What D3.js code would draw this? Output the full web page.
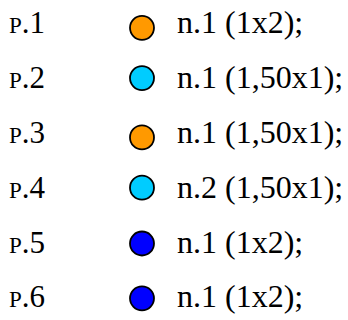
<!DOCTYPE html>
<html>
<head>
<meta charset="utf-8">
<script src="https://cdn.jsdelivr.net/npm/d3@7"></script>
<style>
  html, body { margin: 0; padding: 0; background: #fff; }
  svg { display: block; }
</style>
</head>
<body>
<div id="chart"></div>
<script>
// Data
const rowLabels = ["1", "2", "3", "4", "5", "6"];
const itemTexts = ["n.1 (1x2);", "n.1 (1,50x1);", "n.1 (1,50x1);", "n.2 (1,50x1);", "n.1 (1x2);", "n.1 (1x2);"];
const markerKinds = ["orange", "cyan", "orange", "cyan", "blue", "blue"];

const W = 348, H = 320;
const colorScale = d3.scaleOrdinal()
  .domain(["orange", "cyan", "blue"])
  .range(["#ff9900", "#00ccff", "#0000ff"]);
// marker vertical offset relative to text baseline (per marker kind)
const markerOffset = d3.scaleOrdinal()
  .domain(["orange", "cyan", "blue"])
  .range([-5.5, -10, -9]);

const svg = d3.select("#chart").append("svg")
  .attr("width", W).attr("height", H);

const y = d3.scalePoint().domain(rowLabels).range([33.3, 307.3]);

const rows = svg.selectAll("g.row")
  .data(rowLabels.map((l, i) => ({ label: l, text: itemTexts[i], kind: markerKinds[i] })))
  .join("g")
  .attr("class", "row")
  .attr("transform", d => `translate(0,${y(d.label)})`);

const lbl = rows.append("text")
  .attr("x", 9)
  .attr("y", 0)
  .attr("font-family", "'Liberation Serif', 'Times New Roman', serif")
  .attr("font-size", 31)
  .attr("fill", "#000");
lbl.append("tspan").attr("font-size", 23).text("P");
lbl.append("tspan").text(d => "." + d.label);

rows.append("circle")
  .attr("cx", 142)
  .attr("cy", d => markerOffset(d.kind))
  .attr("r", 12)
  .attr("fill", d => colorScale(d.kind))
  .attr("stroke", "#000")
  .attr("stroke-width", 1.8);

rows.append("text")
  .attr("x", 177)
  .attr("y", 0)
  .attr("font-family", "'Liberation Serif', 'Times New Roman', serif")
  .attr("font-size", 32)
  .attr("fill", "#000")
  .text(d => d.text);
</script>
</body>
</html>
